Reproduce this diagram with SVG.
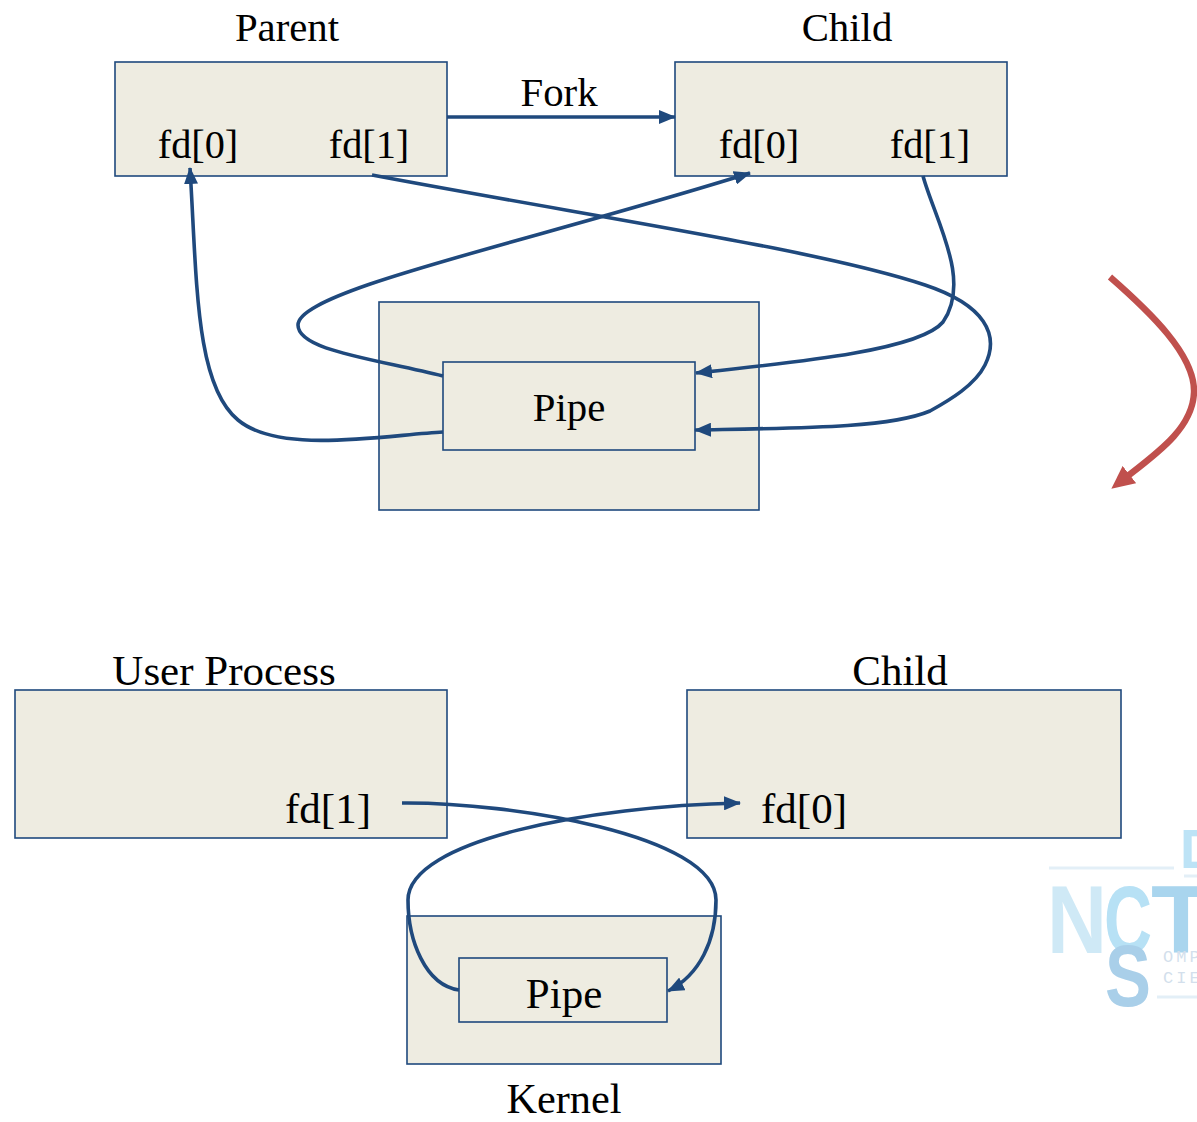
<svg xmlns="http://www.w3.org/2000/svg" width="1197" height="1122" viewBox="0 0 1197 1122">
<style>
.b{fill:#eeece1;stroke:#1f497d;stroke-width:1.6}
.c{fill:none;stroke:#1f497d;stroke-width:3.6}
text{font-family:"Liberation Serif","Times New Roman",serif;font-size:40.8px;fill:#000;text-anchor:middle}
.f{font-size:40.3px}
.l{font-size:43px}
.k{font-size:42.3px}
.m{font-family:"Liberation Sans",Arial,sans-serif;font-weight:700;text-anchor:start;font-size:97px}
.m2{font-size:88px}
.m3{font-size:55px}
.s{font-family:"Liberation Mono",monospace;font-size:17px;letter-spacing:3px;text-anchor:start;fill:#d3dfec}
</style>
<defs>
<marker id="a" markerUnits="userSpaceOnUse" markerWidth="18" markerHeight="14" refX="16" refY="7" orient="auto"><path d="M0 0L17 7L0 14Z" fill="#1f497d"/></marker>
<marker id="r" markerUnits="userSpaceOnUse" markerWidth="24" markerHeight="22" refX="12" refY="11" orient="auto"><path d="M0 0L23 11L0 22Z" fill="#c0504d"/></marker>
</defs>
<rect width="1197" height="1122" fill="#fff"/>
<g id="logo">
<path d="M1049 868H1174M1184 876H1197M1157 997H1197" fill="none" stroke="#e3eff7" stroke-width="3"/>
<text class="m"><tspan x="1047" y="953" textLength="60" lengthAdjust="spacingAndGlyphs" fill="#cfe9f6">N</tspan><tspan x="1104" y="953" textLength="48" lengthAdjust="spacingAndGlyphs" fill="#b7e1f5">C</tspan><tspan x="1151" y="953" textLength="60" lengthAdjust="spacingAndGlyphs" fill="#a9d5ee">T</tspan><tspan class="m2" x="1105" y="1006" textLength="46" lengthAdjust="spacingAndGlyphs" fill="#a9cfe9">S</tspan><tspan class="m3" x="1180" y="868" fill="#bde3f6">D</tspan></text>
<text class="s"><tspan x="1163" y="962">OMP</tspan><tspan x="1163" y="983">CIE</tspan></text>
</g>
<g id="parent"><rect class="b" x="115" y="62" width="332" height="114"/><text x="287" y="41">Parent</text><text class="f" x="198" y="158">fd[0]</text><text class="f" x="369" y="158">fd[1]</text></g>
<g id="child"><rect class="b" x="675" y="62" width="332" height="114"/><text x="847" y="41">Child</text><text class="f" x="759" y="158">fd[0]</text><text class="f" x="930" y="158">fd[1]</text></g>
<g id="fork"><text x="559" y="106">Fork</text></g>
<g id="pipe-outer"><rect class="b" x="379" y="302" width="380" height="208"/></g>
<g id="pipe"><rect class="b" x="443" y="362" width="252" height="88"/><text x="569" y="421">Pipe</text></g>
<g id="user"><rect class="b" x="15" y="690" width="432" height="148"/><text class="l" x="224" y="685">User Process</text><text class="l" x="328" y="823">fd[1]</text></g>
<g id="child2"><rect class="b" x="687" y="690" width="434" height="148"/><text class="l" x="900" y="685">Child</text><text class="l" x="804" y="823">fd[0]</text></g>
<g id="kernel"><rect class="b" x="407" y="916" width="314" height="148"/><text class="k" x="564" y="1113">Kernel</text></g>
<g id="pipe2"><rect class="b" x="459" y="958" width="208" height="64"/><text class="l" x="564" y="1008">Pipe</text></g>
<g id="connectors">
<path class="c" marker-end="url(#a)" d="M447 117H675"/>
<path class="c" marker-end="url(#a)" d="M443 432C385 435 280 455 238 420C195 385 197 280 190 168"/>
<path class="c" marker-end="url(#a)" d="M443 376C370 358 298 350 298 325C298 290 530 242 750 173"/>
<path class="c" marker-end="url(#a)" d="M923 176C935 220 972 280 943 322C920 350 800 362 696 373"/>
<path class="c" marker-end="url(#a)" d="M372 175C600 218 820 250 925 285C985 305 1000 335 985 365C975 385 950 400 930 411C890 428 800 428 695 430"/>
<path class="c" marker-end="url(#a)" d="M402 803C510 802 716 835 716 900C716 940 700 975 668 991"/>
<path class="c" marker-end="url(#a)" d="M459 990C425 985 408 940 408 900C408 840 590 806 740 803"/>
<path fill="none" stroke="#c0504d" stroke-width="6.4" marker-end="url(#r)" d="M1110 277C1150 312 1195 355 1194 392C1193 430 1153 456 1120 482"/>
</g>
</svg>
